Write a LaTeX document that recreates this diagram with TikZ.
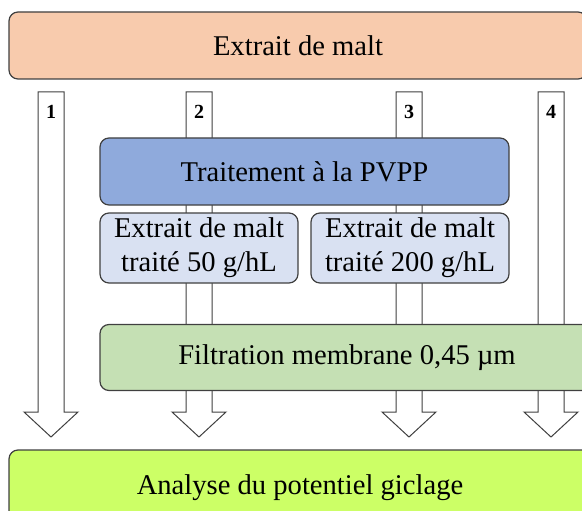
\documentclass[tikz,border=0pt]{standalone}
\usepackage{fontspec}
\setmainfont{Liberation Serif}
\definecolor{peche}{HTML}{F8CBAD}
\definecolor{bleu}{HTML}{8FAADC}
\definecolor{bleuclair}{HTML}{D9E1F2}
\definecolor{vert}{HTML}{C5E0B4}
\definecolor{lime}{HTML}{CCFF66}
\tikzset{
  boite/.style={draw=black!75, line width=1.2pt, rounded corners=9pt, inner sep=0pt, align=center,
    font=\fontsize{28.6}{34}\selectfont},
  fleche/.style={draw=black!75, line width=1pt, fill=white, line join=miter}
}

\begin{document}
\begin{tikzpicture}[x=1pt, y=-1pt]
\useasboundingbox (0,0) rectangle (582,511);

\foreach \x/\n in {51/1, 199/2, 409/3, 551/4} {
  \draw[fleche] (\x-13,92) -- (\x+13,92) -- (\x+13,412) -- (\x+27,412) -- (\x,437)
    -- (\x-27,412) -- (\x-13,412) -- cycle;
  \node[font=\bfseries\fontsize{20}{20}\selectfont] (num\n) at (\x,112) {\n};
}

\node[boite, fill=peche, minimum width=578pt, minimum height=67pt] (malt) at (298,45.5) {Extrait de malt};
\node[boite, fill=bleu, minimum width=409pt, minimum height=67pt] (pvpp) at (304.5,171.5) {Traitement à la PVPP};
\node[boite, fill=bleuclair, minimum width=198pt, minimum height=70pt] (ext50) at (199,248) {Extrait de malt\\traité 50 g/hL};
\node[boite, fill=bleuclair, minimum width=198pt, minimum height=70pt] (ext200) at (410,248) {Extrait de malt\\traité 200 g/hL};
\node[boite, fill=vert, minimum width=494pt, minimum height=66pt] (filtre) at (347,357.5) {Filtration membrane 0,45 µm};
\node[boite, fill=lime, minimum width=582pt, minimum height=76pt] (analyse) at (300,488) {Analyse du potentiel giclage};

\end{tikzpicture}
\end{document}
